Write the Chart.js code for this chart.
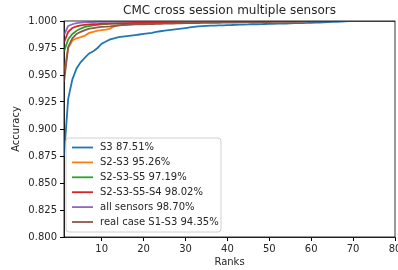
<!DOCTYPE html>
<html>
<head>
<meta charset="utf-8">
<script src="https://cdn.jsdelivr.net/npm/chart.js@4/dist/chart.umd.min.js"></script>
<style>
  html, body { margin: 0; padding: 0; background: #fff; }
  #wrap { width: 398px; height: 270px; position: relative; }
</style>
</head>
<body>
<div id="wrap"><canvas id="cmc"></canvas></div>
<script>
// ranks 1..80
const ranks = [1,2,3,4,5,6,7,8,9,10,11,12,13,14,15,16,17,18,19,20,
  21,22,23,24,25,26,27,28,29,30,31,32,33,34,35,36,37,38,39,40,
  41,42,43,44,45,46,47,48,49,50,51,52,53,54,55,56,57,58,59,60,
  61,62,63,64,65,66,67,68,69,70,71,72,73,74,75,76,77,78,79,80];

const xTicks = [10, 20, 30, 40, 50, 60, 70, 80];
const yTicks = [0.8, 0.825, 0.85, 0.875, 0.9, 0.925, 0.95, 0.975, 1.0];

const seriesLabels = ['S3 87.51%', 'S2-S3 95.26%', 'S2-S3-S5 97.19%',
  'S2-S3-S5-S4 98.02%', 'all sensors 98.70%', 'real case S1-S3 94.35%'];
const seriesColors = ['#1f77b4', '#ff7f0e', '#2ca02c', '#d62728', '#9467bd', '#8c564b'];

const s3 = [0.8751, 0.928, 0.946, 0.956, 0.962, 0.966, 0.970, 0.972, 0.975, 0.979,
  0.981, 0.983, 0.984, 0.985, 0.9855, 0.986, 0.9865, 0.987, 0.9875, 0.988,
  0.9885, 0.989, 0.990, 0.9905, 0.991, 0.9915, 0.992, 0.9925, 0.993, 0.9935,
  0.994, 0.9945, 0.995, 0.9953, 0.9955, 0.9957, 0.9958, 0.996, 0.996, 0.9962,
  0.9963, 0.9965, 0.9966, 0.9967, 0.9968, 0.997, 0.997, 0.9971, 0.9972, 0.9973,
  0.9974, 0.9975, 0.9976, 0.9977, 0.9978, 0.998, 0.998, 0.9981, 0.9982, 0.9984,
  0.9985, 0.9986, 0.9988, 0.999, 0.9991, 0.9993, 0.9995, 0.9997, 0.9999, 1,
  1, 1, 1, 1, 1, 1, 1, 1, 1, 1];

const s2s3 = [0.9526, 0.975, 0.982, 0.984, 0.985, 0.9865, 0.989, 0.990, 0.991, 0.9915,
  0.992, 0.993, 0.995, 0.996, 0.9965, 0.997, 0.997, 0.9972, 0.9974, 0.9975,
  0.9976, 0.9977, 0.9978, 0.9979, 0.998, 0.998, 0.9981, 0.9982, 0.9983, 0.9984,
  0.9985, 0.9985, 0.9986, 0.9987, 0.9987, 0.9988, 0.9988, 0.9989, 0.999, 0.999,
  0.999, 0.9991, 0.9991, 0.9992, 0.9992, 0.9993, 0.9993, 0.9994, 0.9994, 0.9995,
  0.9995, 0.9995, 0.9996, 0.9996, 0.9996, 0.9997, 0.9997, 0.9997, 0.9998, 0.9998,
  0.9998, 0.9998, 0.9999, 0.9999, 0.9999, 0.9999, 1, 1, 1, 1,
  1, 1, 1, 1, 1, 1, 1, 1, 1, 1];

const s2s3s5 = [0.9719, 0.983, 0.988, 0.991, 0.993, 0.9945, 0.9953, 0.996, 0.9965, 0.997,
  0.9972, 0.9975, 0.9976, 0.9977, 0.9978, 0.998, 0.998, 0.9982, 0.9983, 0.9984,
  0.9985, 0.9986, 0.9986, 0.9987, 0.9988, 0.9988, 0.9989, 0.999, 0.999, 0.999,
  0.9991, 0.9992, 0.9992, 0.9993, 0.9993, 0.9994, 0.9994, 0.9995, 0.9995, 0.9996,
  0.9996, 0.9997, 0.9997, 0.9998, 0.9998, 0.9999, 0.9999, 1, 1, 1,
  1, 1, 1, 1, 1, 1, 1, 1, 1, 1,
  1, 1, 1, 1, 1, 1, 1, 1, 1, 1,
  1, 1, 1, 1, 1, 1, 1, 1, 1, 1];

const s2s3s5s4 = [0.9802, 0.990, 0.9935, 0.995, 0.996, 0.9965, 0.9968, 0.997, 0.9972, 0.9975,
  0.9976, 0.9977, 0.9978, 0.998, 0.998, 0.9981, 0.9982, 0.9983, 0.9984, 0.9985,
  0.9986, 0.9987, 0.9988, 0.9988, 0.9989, 0.999, 0.999, 0.999, 0.9991, 0.9991,
  0.9992, 0.9992, 0.9993, 0.9993, 0.9994, 0.9994, 0.9995, 0.9995, 0.9995, 0.9996,
  0.9996, 0.9996, 0.9997, 0.9997, 0.9997, 0.9998, 0.9998, 0.9998, 0.9998, 0.9999,
  0.9999, 0.9999, 0.9999, 0.9999, 1, 1, 1, 1, 1, 1,
  1, 1, 1, 1, 1, 1, 1, 1, 1, 1,
  1, 1, 1, 1, 1, 1, 1, 1, 1, 1];

const allSensors = [0.987, 0.9955, 0.997, 0.998, 0.9985, 0.9988, 0.9989, 0.999, 0.9991, 0.9992,
  0.9993, 0.9994, 0.9995, 0.9995, 0.9996, 0.9997, 0.9997, 0.9998, 0.9998, 0.9999,
  0.9999, 1, 1, 1, 1, 1, 1, 1, 1, 1,
  1, 1, 1, 1, 1, 1, 1, 1, 1, 1,
  1, 1, 1, 1, 1, 1, 1, 1, 1, 1,
  1, 1, 1, 1, 1, 1, 1, 1, 1, 1,
  1, 1, 1, 1, 1, 1, 1, 1, 1, 1,
  1, 1, 1, 1, 1, 1, 1, 1, 1, 1];

const realCase = [0.9435, 0.976, 0.984, 0.988, 0.990, 0.9915, 0.993, 0.9935, 0.994, 0.9945,
  0.9947, 0.995, 0.9955, 0.996, 0.9963, 0.9965, 0.9967, 0.9968, 0.997, 0.997,
  0.9971, 0.9972, 0.9973, 0.9974, 0.9975, 0.9976, 0.9977, 0.9978, 0.9979, 0.998,
  0.998, 0.9981, 0.9981, 0.9982, 0.9982, 0.9983, 0.9983, 0.9984, 0.9985, 0.9985,
  0.9986, 0.9986, 0.9987, 0.9987, 0.9988, 0.9988, 0.9989, 0.9989, 0.999, 0.999,
  0.9991, 0.9991, 0.9992, 0.9992, 0.9993, 0.9993, 0.9994, 0.9994, 0.9995, 0.9995,
  0.9996, 0.9996, 0.9997, 0.9997, 0.9998, 0.9998, 0.9999, 0.9999, 0.9999, 1,
  1, 1, 1, 1, 1, 1, 1, 1, 1, 1];

const allSeries = [s3, s2s3, s2s3s5, s2s3s5s4, allSensors, realCase];

const FONT = "'DejaVu Sans', sans-serif";
const TEXT = '#262626';

// frame on all four sides + title, like matplotlib
const framePlugin = {
  id: 'frame',
  afterDraw(chart) {
    const {ctx, chartArea: a} = chart;
    ctx.save();
    ctx.strokeStyle = '#000';
    ctx.lineWidth = 0.8;
    ctx.strokeRect(a.left, a.top, a.right - a.left, a.bottom - a.top);
    ctx.fillStyle = TEXT;
    ctx.font = '12px ' + FONT;
    ctx.textAlign = 'center';
    ctx.textBaseline = 'middle';
    ctx.fillText('CMC cross session multiple sensors', (a.left + a.right) / 2, 11);
    ctx.restore();
  }
};

// legend box in the lower left of the plot
const legendPlugin = {
  id: 'innerLegend',
  afterDraw(chart) {
    const {ctx, chartArea: a} = chart;
    const x0 = a.left + 2, y0 = 138, w = 155, h = 94, r = 3;
    ctx.save();
    ctx.beginPath();
    ctx.roundRect(x0, y0, w, h, r);
    ctx.fillStyle = 'rgba(255,255,255,0.8)';
    ctx.fill();
    ctx.strokeStyle = '#d0d0d0';
    ctx.lineWidth = 1;
    ctx.stroke();
    ctx.font = '10px ' + FONT;
    ctx.textBaseline = 'middle';
    chart.data.datasets.forEach((ds, i) => {
      const y = 147.5 + i * 14.9;
      ctx.strokeStyle = ds.borderColor;
      ctx.lineWidth = 1.8;
      ctx.beginPath();
      ctx.moveTo(x0 + 6, y);
      ctx.lineTo(x0 + 27, y);
      ctx.stroke();
      ctx.fillStyle = TEXT;
      ctx.fillText(ds.label, x0 + 34, y);
    });
    ctx.restore();
  }
};

const datasets = allSeries.map((vals, i) => ({
  label: seriesLabels[i],
  data: ranks.map((r, j) => ({x: r, y: vals[j]})),
  borderColor: seriesColors[i],
  backgroundColor: seriesColors[i],
  borderWidth: 1.8,
  pointRadius: 0,
  tension: 0,
  fill: false,
  clip: 0,
  order: allSeries.length - i
}));

new Chart(document.getElementById('cmc'), {
  type: 'line',
  data: { datasets },
  options: {
    responsive: true,
    maintainAspectRatio: false,
    animation: false,
    layout: { padding: { top: 21, right: 3, left: 0, bottom: 0 } },
    plugins: { legend: { display: false }, tooltip: { enabled: false }, title: { display: false } },
    scales: {
      x: {
        type: 'linear',
        min: 1,
        max: 80,
        afterBuildTicks: s => { s.ticks = xTicks.map(v => ({value: v})); },
        afterFit: s => { s.height = 33; s.paddingRight = 0; s.paddingLeft = 0; },
        grid: { drawOnChartArea: false, drawTicks: true, tickLength: 4, color: '#000' },
        border: { display: true, color: '#000', width: 0.8 },
        ticks: { color: TEXT, font: { family: FONT, size: 10 }, padding: 2, maxRotation: 0 },
        title: { display: true, text: 'Ranks', color: TEXT, font: { family: FONT, size: 10 }, padding: { top: 0, bottom: 2 } }
      },
      y: {
        type: 'linear',
        min: 0.8,
        max: 1.0,
        afterBuildTicks: s => { s.ticks = yTicks.map(v => ({value: v})); },
        afterFit: s => { s.width = 64; s.paddingTop = 0; s.paddingBottom = 0; },
        grid: { drawOnChartArea: false, drawTicks: true, tickLength: 4, color: '#000' },
        border: { display: true, color: '#000', width: 0.8 },
        ticks: { color: TEXT, font: { family: FONT, size: 10 }, padding: 3, callback: v => v.toFixed(3) },
        title: { display: true, text: 'Accuracy', color: TEXT, font: { family: FONT, size: 10 }, padding: { top: 10, bottom: 0 } }
      }
    }
  },
  plugins: [framePlugin, legendPlugin]
});
</script>
</body>
</html>
